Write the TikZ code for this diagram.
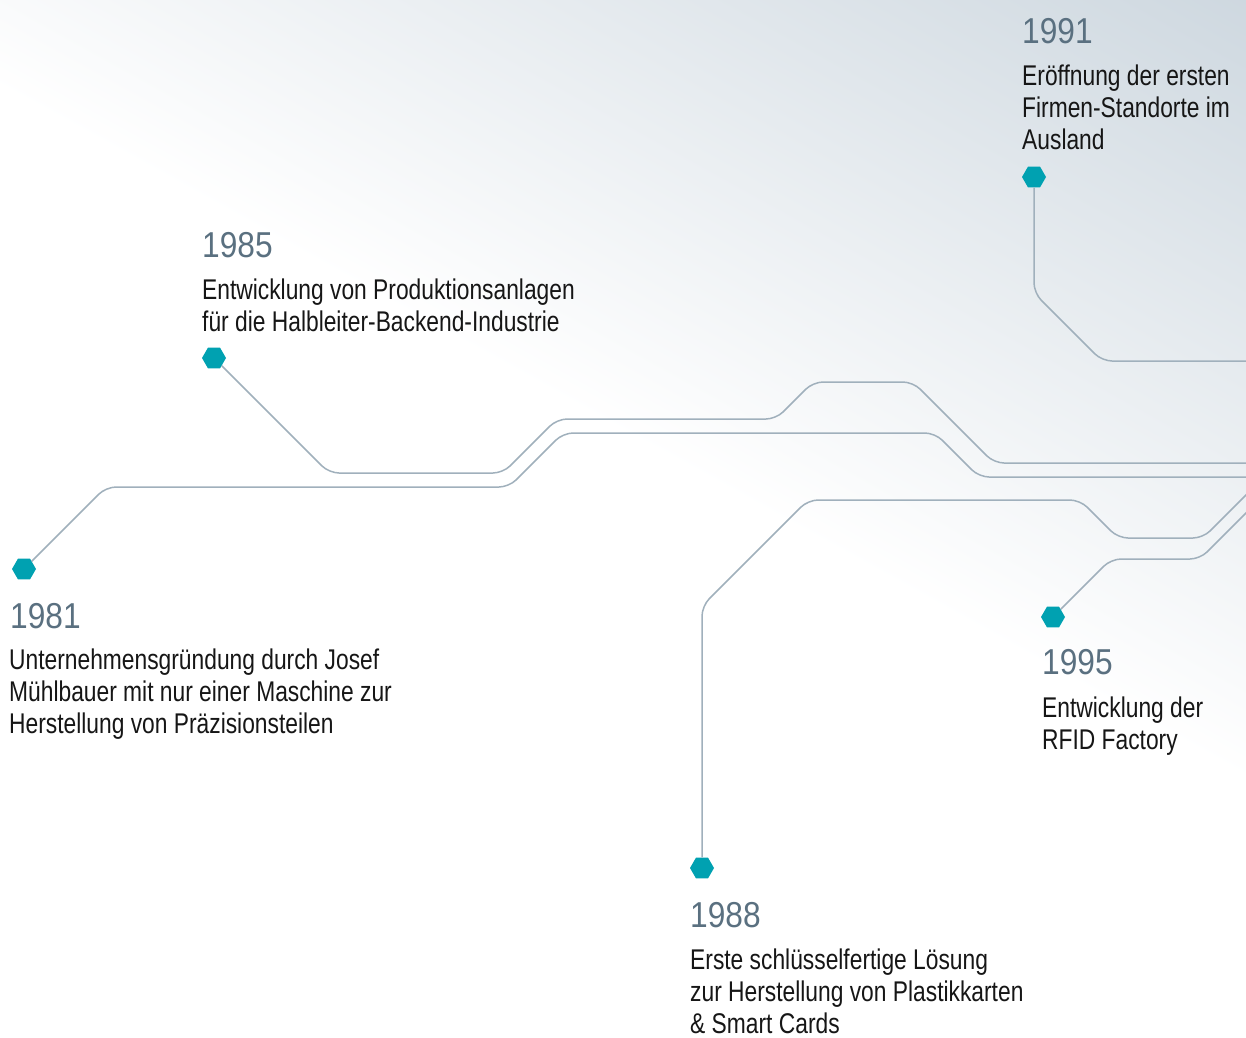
\documentclass[tikz,border=0pt]{standalone}
\usepackage{fontspec}
\setmainfont[FakeStretch=0.8]{Liberation Sans}
\newfontfamily\yearfont[FakeStretch=0.88]{Liberation Sans}
\usetikzlibrary{shapes.geometric}

\definecolor{hexteal}{RGB}{0,161,177}
\definecolor{trackgray}{RGB}{160,176,188}
\definecolor{yeargray}{RGB}{90,112,128}
\definecolor{bodyblack}{RGB}{22,22,22}
\definecolor{bgdark}{RGB}{205,215,223}

\tikzset{
  milestone/.style={regular polygon, regular polygon sides=6, fill=hexteal,
    draw=none, minimum size=24pt, inner sep=0pt},
  track/.style={draw=trackgray, line width=1.5pt, rounded corners=10pt},
  yearlbl/.style={anchor=base west, inner sep=0pt, text=yeargray,
    font=\yearfont\fontsize{36}{36}\selectfont},
  % anchor base = baseline of the last line
  eventtxt/.style={anchor=base west, inner sep=0pt, text=bodyblack,
    align=left, font=\fontsize{28.5}{32}\selectfont}
}

\begin{document}
\begin{tikzpicture}[x=1pt,y=-1pt]
\useasboundingbox (0,0) rectangle (1246,1037);
\fill[white] (0,0) rectangle (1246,1037);
% tilted fade, darkest at the top right
\begin{scope}
\clip (0,0) rectangle (1246,1037);
\shade[top color=bgdark, bottom color=white,
  transform canvas={rotate around={-29:(0,90)}}]
  (-200,-610) rectangle (1600,90);
\end{scope}

% milestones
\node[milestone] (h1981) at (24,569) {};
\node[milestone] (h1985) at (214,358) {};
\node[milestone] (h1991) at (1034,177) {};
\node[milestone] (h1988) at (702,868) {};
\node[milestone] (h1995) at (1053,617) {};

% track ends beyond the right edge
\coordinate (endA) at (1260,477);
\coordinate (endB) at (1260,463);
\coordinate (endC) at (1260,361);
\coordinate (endD) at (1260,481);
\coordinate (endE) at (1260,499);

\begin{scope}
\clip (0,0) rectangle (1246,1037);
\draw[track]
     (h1981)
  -- (106,487)
  -- (509,487)
  -- (563,433)
  -- (935,433)
  -- (979,477)
  -- (endA);
\draw[track]
     (h1985)
  -- (329,473)
  -- (503,473)
  -- (557,419)
  -- (776,419)
  -- (813,382)
  -- (913,382)
  -- (994,463)
  -- (endB);
\draw[track]
     (h1991)
  -- (1034,293)
  -- (1102,361)
  -- (endC);
\draw[track]
     (h1988)
  -- (702,606)
  -- (808,500)
  -- (1080,500)
  -- (1118,538)
  -- (1203,538)
  -- (endD);
\draw[track]
     (h1995)
  -- (1111,559)
  -- (1200,559)
  -- (endE);
\end{scope}

% labels
\node[yearlbl] (y1981) at (10,628) {1981};
\node[eventtxt] (t1981) at (9,733)
  {Unternehmensgründung durch Josef\\Mühlbauer mit nur einer Maschine zur\\Herstellung von Präzisionsteilen};
\node[yearlbl] (y1985) at (202,257) {1985};
\node[eventtxt] (t1985) at (202,331)
  {Entwicklung von Produktionsanlagen\\für die Halbleiter-Backend-Industrie};
\node[yearlbl] (y1991) at (1022,43) {1991};
\node[eventtxt] (t1991) at (1022,149)
  {Eröffnung der ersten\\Firmen-Standorte im\\Ausland};
\node[yearlbl] (y1988) at (690,927) {1988};
\node[eventtxt] (t1988) at (690,1033)
  {Erste schlüsselfertige Lösung\\zur Herstellung von Plastikkarten\\\& Smart Cards};
\node[yearlbl] (y1995) at (1042,674) {1995};
\node[eventtxt] (t1995) at (1042,749)
  {Entwicklung der\\RFID Factory};
\end{tikzpicture}
\end{document}
